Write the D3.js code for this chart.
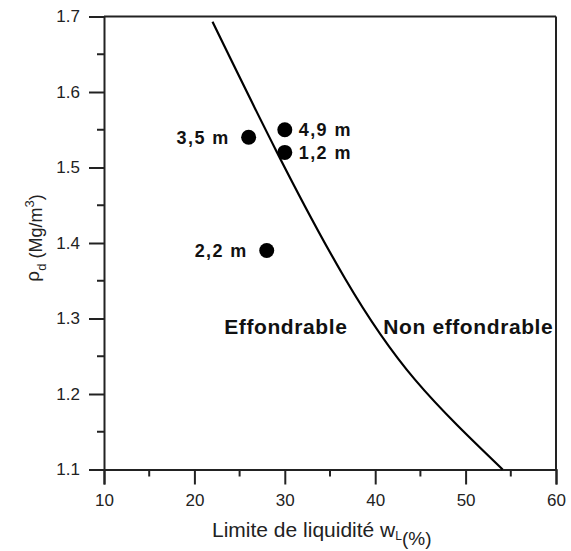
<!DOCTYPE html>
<html>
<head>
<meta charset="utf-8">
<script src="https://cdn.jsdelivr.net/npm/d3@7"></script>
<style>
  body { margin: 0; background: #fff; }
  svg { font-family: "Liberation Sans", Arial, sans-serif; }
</style>
</head>
<body>
<script>
// limit curve (wL %, rho_d Mg/m3)
const curveW = [22.0, 29.1, 36.66, 44.4, 54.1];
const curveRho = [1.693, 1.521, 1.353, 1.219, 1.1];

// samples
const sampleNames = ["3,5 m", "4,9 m", "1,2 m", "2,2 m"];
const sampleW = [26, 30, 30, 28];
const sampleRho = [1.54, 1.55, 1.52, 1.39];
const sampleSide = ["left", "right", "right", "left"];

// zone labels
const zoneNames = ["Effondrable", "Non effondrable"];
const zoneW = [23.3, 40.9];
const zoneRho = [1.2795, 1.2795];

const xTicks = [10, 20, 30, 40, 50, 60];
const yTicks = [1.1, 1.2, 1.3, 1.4, 1.5, 1.6, 1.7];

const W = 571, H = 551;
const plotL = 104, plotR = 556, plotT = 16.5, plotB = 469.5;
const ink = "#222";

const svg = d3.select("body").append("svg")
    .attr("width", W)
    .attr("height", H);

const x = d3.scaleLinear().domain([10, 60]).range([plotL, plotR]);
const y = d3.scaleLinear().domain([1.1, 1.7]).range([plotB, plotT]);

// minor ticks
const xMinor = d3.range(15, 60, 10);
const yMinor = d3.range(1.15, 1.7, 0.1);

svg.append("g")
    .selectAll("line")
    .data(xMinor)
    .enter().append("line")
    .attr("x1", d => x(d)).attr("x2", d => x(d))
    .attr("y1", plotB).attr("y2", plotB + 7)
    .attr("stroke", ink).attr("stroke-width", 2);

svg.append("g")
    .selectAll("line")
    .data(yMinor)
    .enter().append("line")
    .attr("y1", d => y(d)).attr("y2", d => y(d))
    .attr("x1", plotL).attr("x2", plotL - 7)
    .attr("stroke", ink).attr("stroke-width", 2);

// axes
const xAxis = svg.append("g")
    .attr("transform", `translate(0,${plotB})`)
    .call(d3.axisBottom(x).tickValues(xTicks).tickSize(15).tickPadding(9).tickFormat(d3.format("d")));

const yAxis = svg.append("g")
    .attr("transform", `translate(${plotL},0)`)
    .call(d3.axisLeft(y).tickValues(yTicks).tickSize(15).tickPadding(9).tickFormat(d3.format(".1f")));

[xAxis, yAxis].forEach(g => {
    g.select(".domain").attr("stroke", ink).attr("stroke-width", 2);
    g.selectAll(".tick line").attr("stroke", ink).attr("stroke-width", 2);
    g.selectAll(".tick text")
        .attr("fill", ink)
        .style("font-size", "17px")
        .style("font-family", "'Liberation Sans', Arial, sans-serif");
});

// top and right frame
svg.append("line")
    .attr("x1", plotL).attr("x2", plotR)
    .attr("y1", plotT).attr("y2", plotT)
    .attr("stroke", ink).attr("stroke-width", 2);
svg.append("line")
    .attr("x1", plotR).attr("x2", plotR)
    .attr("y1", plotT).attr("y2", plotB)
    .attr("stroke", ink).attr("stroke-width", 2);

// limit curve
const line = d3.line()
    .x(i => x(curveW[i]))
    .y(i => y(curveRho[i]))
    .curve(d3.curveNatural);

svg.append("path")
    .attr("d", line(d3.range(curveW.length)))
    .attr("fill", "none")
    .attr("stroke", "#000")
    .attr("stroke-width", 2.2);

// samples
svg.append("g")
    .selectAll("circle")
    .data(sampleNames)
    .enter().append("circle")
    .attr("cx", (_, i) => x(sampleW[i]))
    .attr("cy", (_, i) => y(sampleRho[i]))
    .attr("r", 7.5)
    .attr("fill", "#000");

svg.append("g")
    .selectAll("text")
    .data(sampleNames)
    .enter().append("text")
    .attr("x", (_, i) => x(sampleW[i]) + (sampleSide[i] === "right" ? 14 : -19))
    .attr("y", (_, i) => y(sampleRho[i]) + 6.5)
    .attr("text-anchor", (_, i) => sampleSide[i] === "right" ? "start" : "end")
    .style("font-size", "18px")
    .style("font-weight", "bold")
    .style("letter-spacing", "1.4px")
    .attr("fill", "#111")
    .text(d => d);

// zone labels
svg.append("g")
    .selectAll("text")
    .data(zoneNames)
    .enter().append("text")
    .attr("x", (_, i) => x(zoneW[i]))
    .attr("y", (_, i) => y(zoneRho[i]))
    .style("font-size", "21px")
    .style("font-weight", "bold")
    .style("letter-spacing", "0.6px")
    .attr("fill", "#111")
    .text(d => d);

// x title
const xt = svg.append("text")
    .attr("x", 212)
    .attr("y", 536.5)
    .attr("fill", ink)
    .style("font-size", "21px");
xt.append("tspan").text("Limite de liquidité w");
xt.append("tspan").attr("dy", 3).style("font-size", "12px").text("L");
xt.append("tspan").attr("dy", 5).style("font-size", "19px").text("(%)");

// y title
const yt = svg.append("text")
    .attr("transform", "translate(42,238) rotate(-90)")
    .attr("text-anchor", "middle")
    .attr("fill", ink)
    .style("font-size", "18px");
yt.append("tspan").attr("dy", -3).style("font-size", "19px").text("ρ");
yt.append("tspan").attr("dy", 7).style("font-size", "13px").text("d");
yt.append("tspan").attr("dy", -4).text(" (Mg/m");
yt.append("tspan").attr("dy", -8).style("font-size", "13px").text("3");
yt.append("tspan").attr("dy", 8).text(")");
</script>
</body>
</html>
